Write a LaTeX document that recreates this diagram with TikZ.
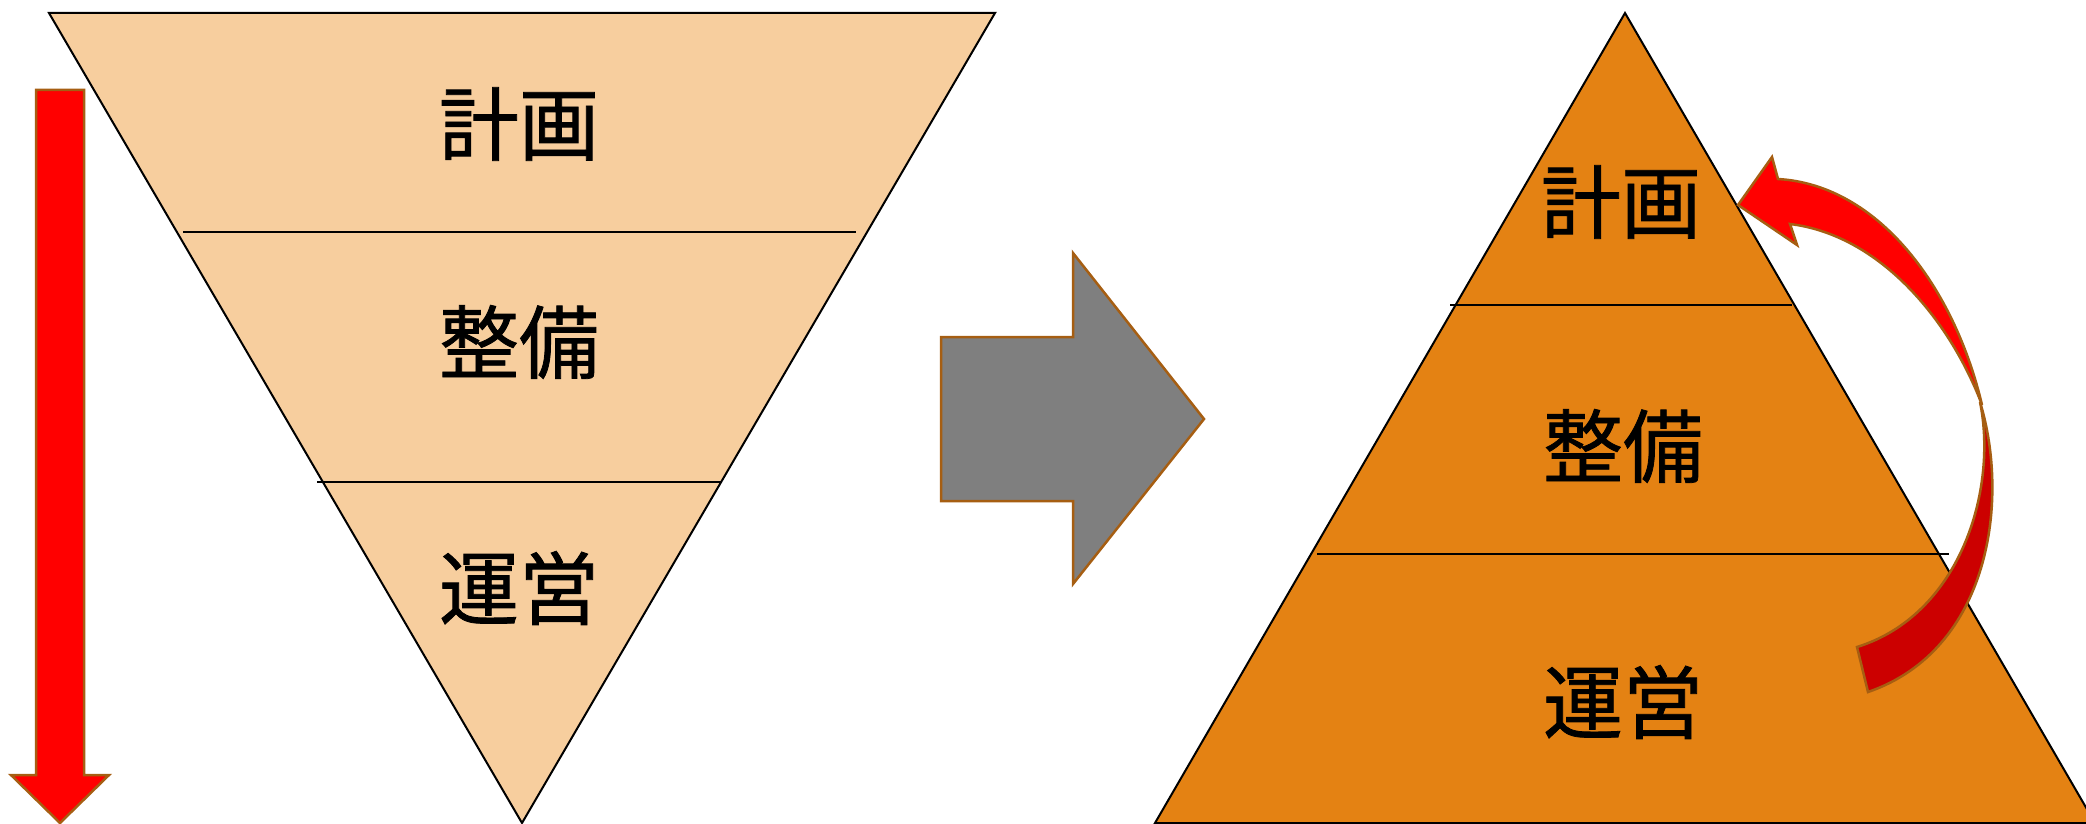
\documentclass[tikz,border=0pt]{standalone}
\usepackage{fontspec}
\newfontfamily\jp[FakeBold=1.0]{Noto Sans CJK JP}
\definecolor{peach}{HTML}{F7CE9E}
\definecolor{orng}{HTML}{E48213}
\definecolor{brn}{HTML}{A65E12}
\definecolor{gry}{HTML}{7F7F7F}
\definecolor{dred}{HTML}{CC0000}
\tikzset{
  tri/.style={draw=black,line width=2pt,line join=miter},
  sep/.style={draw=black,line width=2pt},
  arr/.style={draw=brn,line width=2.5pt,line join=miter},
  lbl/.style={font=\jp\fontsize{80}{85}\selectfont,inner sep=0pt,text=black}
}
\begin{document}
\begin{tikzpicture}[x=1pt,y=-1pt]
\useasboundingbox (0,0) rectangle (2086,824);
% inverted triangle
\draw[tri,fill=peach] (49,13) -- (995,13) -- (522,823) -- cycle;
\draw[sep] (183,232) -- (856,232);
\draw[sep] (317,482) -- (721,482);
\node[lbl] (a1) at (519,124) {計画};
\node[lbl] (a2) at (519,342) {整備};
\node[lbl] (a3) at (519,588) {運営};
% down arrow
\draw[arr,fill=red] (36,90) -- (84,90) -- (84,775) -- (109,775) -- (60,823) -- (11,775) -- (36,775) -- cycle;
% gray arrow
\draw[arr,fill=gry] (941,337) -- (1073,337) -- (1073,253) -- (1204,419) -- (1073,584) -- (1073,501) -- (941,501) -- cycle;
% upright triangle
\draw[tri,fill=orng] (1625,13) -- (2095,823) -- (1155,823) -- cycle;
\draw[sep] (1450,305) -- (1792,305);
\draw[sep] (1317,554) -- (1949,554);
\node[lbl] (b1) at (1621,202) {計画};
\node[lbl] (b2) at (1623,446) {整備};
\node[lbl] (b3) at (1623,702) {運営};
% curved arrow: dark back part
\draw[arr,fill=dred] (1980,402) .. controls (2010,500) and (1990,650) .. (1868,692)
  -- (1857,647) .. controls (1960,615) and (1998,490) .. (1980,402) -- cycle;
% curved arrow: bright front part with head
\draw[arr,fill=red] (1738,205) -- (1772,157) -- (1778,179)
  .. controls (1880,185) and (1955,290) .. (1982,405)
  .. controls (1950,320) and (1880,235) .. (1790,224)
  -- (1797,245) -- cycle;
\end{tikzpicture}
\end{document}
